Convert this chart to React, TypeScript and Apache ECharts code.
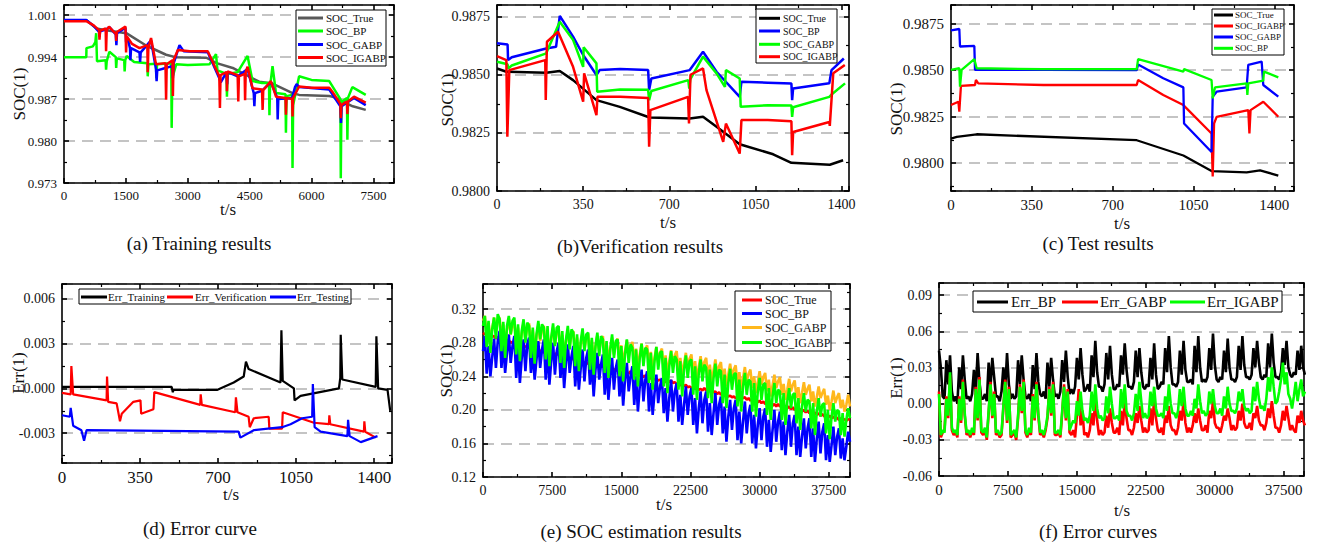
import React, { useEffect, useRef } from "react";
import * as echarts from "echarts";

const SERIF = "'Liberation Serif','Times New Roman',Times,serif";
type P = [number, number];

// ---------- (a) Training results ----------
const trainTrue: P[] = [[0,1.0001],[556,1.0001],[780,0.9988],[1100,0.9984],[1510,0.9980],[2000,0.9959],[2475,0.9944],[2700,0.9940],[3450,0.9939],[3700,0.9930],[4090,0.9922],[4730,0.9899],[5055,0.9896],[5540,0.9880],[5700,0.9877],[6430,0.9875],[6510,0.9874],[6750,0.9866],[7000,0.9858],[7315,0.9852]];
const trainBP: P[] = [[0,0.9940],[540,0.9940],[545,0.9955],[700,0.9958],[760,0.9965],[780,0.9980],[800,0.9933],[1010,0.9935],[1020,0.9919],[1035,0.9933],[1100,0.9949],[1255,0.9940],[1265,0.9922],[1280,0.9938],[1460,0.9935],[1470,0.9916],[1485,0.9935],[1520,0.9942],[1700,0.9932],[2020,0.9930],[2030,0.9908],[2045,0.9928],[2230,0.9929],[2240,0.9905],[2255,0.9928],[2600,0.9930],[2610,0.9822],[2625,0.9905],[2720,0.9928],[3000,0.9927],[3525,0.9928],[3685,0.9945],[3720,0.9918],[3940,0.9912],[3950,0.9874],[3965,0.9912],[4210,0.9915],[4450,0.9942],[4570,0.9900],[4800,0.9897],[4970,0.9897],[4980,0.9843],[4995,0.9890],[5055,0.9925],[5140,0.9880],[5370,0.9878],[5380,0.9814],[5395,0.9875],[5530,0.9877],[5540,0.9755],[5555,0.9860],[5700,0.9908],[6000,0.9902],[6430,0.9900],[6700,0.9870],[6710,0.9738],[6725,0.9865],[6860,0.9872],[6870,0.9802],[6885,0.9872],[6990,0.9890],[7315,0.9877]];
const trainGABP: P[] = [[0,1.0002],[540,1.0002],[720,0.9992],[850,0.9982],[860,0.9974],[875,0.9983],[1010,0.9986],[1100,0.9990],[1255,0.9978],[1270,0.9960],[1285,0.9980],[1490,0.9989],[1505,0.9965],[1540,0.9972],[1600,0.9955],[1610,0.9935],[1625,0.9955],[1830,0.9948],[1845,0.9932],[1860,0.9948],[2110,0.9968],[2230,0.9920],[2245,0.9900],[2260,0.9918],[2460,0.9922],[2620,0.9925],[2640,0.9905],[2660,0.9930],[2800,0.9960],[2900,0.9950],[3485,0.9948],[3765,0.9905],[3800,0.9898],[3940,0.9915],[3955,0.9895],[3970,0.9915],[4210,0.9908],[4450,0.9920],[4600,0.9880],[4615,0.9858],[4630,0.9880],[4800,0.9884],[5015,0.9898],[5170,0.9872],[5180,0.9836],[5195,0.9870],[5530,0.9872],[5600,0.9890],[5640,0.9895],[5700,0.9890],[6430,0.9886],[6700,0.9858],[6715,0.9830],[6730,0.9858],[7030,0.9872],[7315,0.9860]];
const trainIGABP: P[] = [[0,1.0000],[540,1.0000],[720,0.9993],[850,0.9985],[860,0.9969],[875,0.9984],[1010,0.9988],[1020,0.9950],[1035,0.9985],[1090,0.9991],[1255,0.9979],[1265,0.9967],[1280,0.9982],[1490,0.9991],[1505,0.9948],[1520,0.9975],[1650,0.9962],[1830,0.9955],[2020,0.9960],[2030,0.9915],[2045,0.9955],[2110,0.9972],[2230,0.9928],[2460,0.9930],[2475,0.9869],[2490,0.9928],[2630,0.9935],[2640,0.9875],[2655,0.9935],[2760,0.9952],[3050,0.9950],[3485,0.9950],[3765,0.9908],[3780,0.9855],[3795,0.9910],[3940,0.9915],[3950,0.9883],[3965,0.9916],[4210,0.9910],[4225,0.9866],[4240,0.9908],[4380,0.9912],[4390,0.9868],[4405,0.9915],[4450,0.9924],[4570,0.9888],[4800,0.9886],[4815,0.9852],[4830,0.9885],[5015,0.9900],[5140,0.9874],[5370,0.9872],[5380,0.9844],[5395,0.9872],[5530,0.9870],[5540,0.9841],[5555,0.9872],[5700,0.9891],[6000,0.9889],[6430,0.9889],[6510,0.9882],[6700,0.9862],[6710,0.9838],[6725,0.9860],[6860,0.9866],[6870,0.9845],[6885,0.9866],[7030,0.9874],[7315,0.9864]];

// ---------- (b) Verification results ----------
const verTrue: P[] = [[0,0.98527],[38,0.98513],[200,0.98509],[255,0.98516],[309,0.98477],[404,0.98391],[499,0.98362],[620,0.98316],[783,0.98312],[837,0.98319],[892,0.98276],[986,0.98201],[1122,0.98158],[1196,0.98121],[1352,0.98113],[1406,0.98132]];
const verBP: P[] = [[0,0.98635],[43,0.98630],[45,0.98563],[60,0.98575],[200,0.98613],[240,0.98620],[255,0.98753],[309,0.98664],[350,0.98585],[404,0.98499],[417,0.98520],[500,0.98525],[614,0.98520],[618,0.98434],[627,0.98484],[783,0.98520],[837,0.98599],[892,0.98513],[986,0.98405],[993,0.98470],[1100,0.98466],[1196,0.98462],[1199,0.98391],[1203,0.98441],[1350,0.98463],[1359,0.98520],[1409,0.98570]];
const verGABP: P[] = [[0,0.98556],[43,0.98545],[45,0.98527],[60,0.98540],[200,0.98592],[255,0.98728],[309,0.98650],[350,0.98534],[352,0.98618],[404,0.98549],[407,0.98427],[500,0.98437],[614,0.98435],[618,0.98391],[627,0.98430],[777,0.98477],[781,0.98440],[785,0.98480],[837,0.98578],[892,0.98506],[926,0.98448],[930,0.98520],[986,0.98484],[990,0.98362],[1100,0.98369],[1196,0.98368],[1199,0.98319],[1203,0.98360],[1350,0.98405],[1359,0.98415],[1414,0.98463]];
const verIGABP: P[] = [[0,0.98580],[38,0.98563],[42,0.98233],[50,0.98520],[196,0.98563],[198,0.98391],[203,0.98642],[248,0.98685],[309,0.98534],[350,0.98384],[354,0.98506],[404,0.98326],[408,0.98405],[500,0.98405],[614,0.98400],[618,0.98190],[623,0.98348],[776,0.98405],[780,0.98290],[786,0.98500],[837,0.98527],[851,0.98434],[919,0.98211],[930,0.98290],[986,0.98161],[993,0.98305],[1100,0.98305],[1196,0.98300],[1199,0.98154],[1203,0.98254],[1350,0.98297],[1352,0.98280],[1366,0.98506],[1413,0.98542]];

// ---------- (c) Test results ----------
const testTrue: P[] = [[0,0.98132],[25,0.98141],[111,0.98155],[804,0.98123],[1006,0.98041],[1128,0.97957],[1280,0.97950],[1338,0.97961],[1417,0.97933]];
const testIGABP: P[] = [[0,0.98312],[32,0.98330],[36,0.98276],[43,0.98415],[104,0.98420],[108,0.98447],[118,0.98429],[400,0.98420],[804,0.98420],[810,0.98447],[919,0.98366],[1006,0.98312],[1128,0.98159],[1133,0.97928],[1139,0.98213],[1150,0.98249],[1287,0.98285],[1292,0.98159],[1297,0.98285],[1352,0.98330],[1417,0.98249]];
const testGABP: P[] = [[0,0.98714],[36,0.98721],[39,0.98627],[101,0.98630],[104,0.98501],[400,0.98501],[804,0.98500],[810,0.98530],[919,0.98456],[1006,0.98407],[1009,0.98213],[1128,0.98060],[1133,0.98357],[1150,0.98384],[1280,0.98407],[1287,0.98528],[1345,0.98546],[1352,0.98420],[1417,0.98357]];
const testBP: P[] = [[0,0.98501],[36,0.98510],[39,0.98411],[46,0.98501],[101,0.98559],[111,0.98510],[400,0.98505],[804,0.98505],[810,0.98559],[1006,0.98492],[1009,0.98505],[1128,0.98447],[1133,0.98348],[1143,0.98407],[1280,0.98429],[1283,0.98366],[1287,0.98429],[1352,0.98443],[1355,0.98492],[1417,0.98461]];

// ---------- (d) Error curve ----------
const errTraining: P[] = [[0,0.0001],[492,0.0001],[497,-0.00025],[500,-0.0001],[695,-0.0001],[770,0.0004],[815,0.0008],[825,0.0018],[837,0.0013],[980,0.0004],[984,0.0039],[990,0.0005],[1040,0.0],[1043,-0.0008],[1070,-0.0005],[1242,0.0],[1248,0.0007],[1250,0.0036],[1257,0.0006],[1407,0.0001],[1410,0.0035],[1418,0.0],[1460,-0.0001],[1472,-0.0015]];
const errVerification: P[] = [[0,-0.0003],[39,-0.0004],[42,0.0015],[50,-0.0004],[200,-0.0008],[202,0.0008],[207,-0.0009],[245,-0.001],[260,-0.0022],[268,-0.0017],[320,-0.0009],[352,-0.0008],[355,-0.0017],[410,-0.0014],[414,-0.00025],[620,-0.0011],[622,-0.0004],[627,-0.0011],[777,-0.0016],[780,-0.0006],[787,-0.0016],[837,-0.0019],[842,-0.0026],[860,-0.0020],[927,-0.0019],[930,-0.0027],[987,-0.0027],[990,-0.0016],[1130,-0.0023],[1197,-0.0024],[1199,-0.0018],[1203,-0.0024],[1354,-0.0029],[1356,-0.0022],[1360,-0.0029],[1407,-0.0033]];
const errTesting: P[] = [[0,-0.0018],[35,-0.0019],[39,-0.0013],[50,-0.0025],[87,-0.0028],[99,-0.0035],[110,-0.0028],[792,-0.0029],[800,-0.0033],[860,-0.0028],[987,-0.0026],[1025,-0.0024],[1077,-0.0020],[1122,-0.0019],[1125,0.0003],[1133,-0.0026],[1160,-0.0029],[1280,-0.0032],[1283,-0.0021],[1290,-0.0032],[1340,-0.0036],[1415,-0.0032]];

// ---------- (e)/(f) long drive-cycle test (sample times, s) ----------
const cycleTime = [
  0,200,400,600,800,1000,1200,1400,1600,1800,2000,2200,2400,2600,2800,3000,3200,3400,3600,3800,
  4000,4200,4400,4600,4800,5000,5200,5400,5600,5800,6000,6200,6400,6600,6800,7000,7200,7400,7600,7800,
  8000,8200,8400,8600,8800,9000,9200,9400,9600,9800,10000,10200,10400,10600,10800,11000,11200,11400,11600,11800,
  12000,12200,12400,12600,12800,13000,13200,13400,13600,13800,14000,14200,14400,14600,14800,15000,15200,15400,15600,15800,
  16000,16200,16400,16600,16800,17000,17200,17400,17600,17800,18000,18200,18400,18600,18800,19000,19200,19400,19600,19800,
  20000,20200,20400,20600,20800,21000,21200,21400,21600,21800,22000,22200,22400,22600,22800,23000,23200,23400,23600,23800,
  24000,24200,24400,24600,24800,25000,25200,25400,25600,25800,26000,26200,26400,26600,26800,27000,27200,27400,27600,27800,
  28000,28200,28400,28600,28800,29000,29200,29400,29600,29800,30000,30200,30400,30600,30800,31000,31200,31400,31600,31800,
  32000,32200,32400,32600,32800,33000,33200,33400,33600,33800,34000,34200,34400,34600,34800,35000,35200,35400,35600,35800,
  36000,36200,36400,36600,36800,37000,37200,37400,37600,37800,38000,38200,38400,38600,38800,39000,39200,39400,39600,39800,
];
const socTrue = [
  0.292,0.290,0.291,0.288,0.289,0.287,0.288,0.285,0.287,0.284,0.285,0.283,0.284,0.281,0.283,0.280,0.281,0.279,0.280,0.278,
  0.279,0.277,0.278,0.275,0.276,0.274,0.275,0.272,0.274,0.271,0.272,0.270,0.271,0.268,0.270,0.267,0.268,0.266,0.267,0.265,
  0.268,0.265,0.266,0.264,0.265,0.262,0.264,0.261,0.262,0.260,0.261,0.258,0.260,0.257,0.258,0.256,0.257,0.255,0.256,0.254,
  0.256,0.254,0.255,0.252,0.254,0.251,0.252,0.250,0.251,0.248,0.250,0.247,0.249,0.246,0.247,0.245,0.246,0.244,0.245,0.243,
  0.246,0.243,0.245,0.242,0.243,0.241,0.242,0.239,0.241,0.238,0.240,0.237,0.238,0.236,0.237,0.235,0.236,0.234,0.235,0.233,
  0.236,0.233,0.235,0.232,0.233,0.231,0.232,0.229,0.231,0.228,0.230,0.227,0.228,0.226,0.227,0.225,0.226,0.224,0.225,0.223,
  0.226,0.223,0.225,0.222,0.223,0.221,0.222,0.219,0.221,0.218,0.220,0.217,0.218,0.216,0.217,0.215,0.216,0.214,0.215,0.213,
  0.216,0.214,0.215,0.212,0.214,0.211,0.213,0.210,0.212,0.209,0.211,0.208,0.210,0.207,0.209,0.206,0.208,0.205,0.207,0.204,
  0.207,0.204,0.206,0.203,0.205,0.202,0.204,0.201,0.203,0.200,0.202,0.199,0.201,0.198,0.200,0.197,0.199,0.196,0.198,0.195,
  0.197,0.194,0.196,0.193,0.195,0.192,0.194,0.191,0.193,0.190,0.192,0.189,0.191,0.188,0.190,0.188,0.189,0.187,0.189,0.188,
];
const socBP = [
  0.270,0.288,0.243,0.276,0.240,0.263,0.285,0.250, 0.282,0.294,0.250,0.280,0.244,0.268,0.290,0.256,
  0.276,0.288,0.238,0.274,0.232,0.262,0.284,0.246, 0.278,0.286,0.244,0.270,0.236,0.260,0.282,0.250,
  0.272,0.284,0.236,0.272,0.230,0.258,0.280,0.242, 0.270,0.280,0.238,0.266,0.226,0.256,0.278,0.244,
  0.264,0.276,0.228,0.262,0.224,0.250,0.272,0.234, 0.262,0.272,0.230,0.258,0.216,0.248,0.268,0.236,
  0.254,0.266,0.218,0.252,0.212,0.240,0.262,0.224, 0.250,0.260,0.216,0.246,0.205,0.236,0.256,0.222,
  0.240,0.252,0.206,0.240,0.198,0.228,0.248,0.210, 0.236,0.246,0.198,0.232,0.194,0.220,0.242,0.208,
  0.228,0.238,0.196,0.226,0.186,0.214,0.236,0.198, 0.222,0.232,0.186,0.218,0.182,0.206,0.228,0.194,
  0.216,0.226,0.182,0.214,0.172,0.202,0.222,0.184, 0.212,0.222,0.174,0.208,0.170,0.196,0.220,0.182,
  0.206,0.216,0.172,0.204,0.162,0.192,0.212,0.176, 0.202,0.212,0.164,0.198,0.160,0.186,0.210,0.172,
  0.196,0.206,0.160,0.194,0.154,0.182,0.202,0.164, 0.192,0.202,0.156,0.188,0.150,0.176,0.200,0.162,
  0.186,0.198,0.152,0.186,0.146,0.174,0.194,0.156, 0.184,0.194,0.146,0.180,0.144,0.168,0.190,0.154,
  0.178,0.190,0.144,0.178,0.138,0.166,0.186,0.148, 0.174,0.184,0.140,0.170,0.138,0.158,0.180,0.146,
  0.168,0.178,0.142,0.166,0.140,0.156,0.174,0.162,
];
const socGABP = [
  0.306,0.312,0.288,0.304,0.282,0.297,0.310,0.292, 0.305,0.310,0.286,0.302,0.278,0.296,0.308,0.290,
  0.300,0.306,0.280,0.298,0.276,0.291,0.304,0.284, 0.298,0.303,0.278,0.295,0.272,0.288,0.301,0.282,
  0.295,0.300,0.274,0.292,0.270,0.285,0.298,0.278, 0.292,0.297,0.272,0.289,0.266,0.282,0.295,0.276,
  0.289,0.294,0.268,0.286,0.264,0.279,0.292,0.272, 0.286,0.291,0.266,0.283,0.260,0.276,0.289,0.270,
  0.283,0.288,0.262,0.280,0.258,0.273,0.286,0.266, 0.280,0.285,0.260,0.277,0.254,0.270,0.283,0.264,
  0.276,0.281,0.256,0.273,0.250,0.266,0.279,0.260, 0.272,0.277,0.252,0.269,0.248,0.262,0.275,0.256,
  0.268,0.273,0.248,0.265,0.242,0.258,0.271,0.252, 0.265,0.270,0.246,0.262,0.240,0.255,0.268,0.250,
  0.261,0.266,0.242,0.258,0.236,0.251,0.264,0.246, 0.257,0.262,0.238,0.254,0.232,0.247,0.260,0.242,
  0.252,0.257,0.234,0.249,0.228,0.242,0.255,0.238, 0.248,0.253,0.230,0.245,0.224,0.238,0.251,0.234,
  0.243,0.248,0.226,0.240,0.220,0.233,0.246,0.230, 0.239,0.244,0.222,0.236,0.216,0.229,0.242,0.226,
  0.234,0.239,0.218,0.231,0.212,0.224,0.237,0.222, 0.230,0.235,0.214,0.227,0.208,0.220,0.233,0.218,
  0.225,0.230,0.210,0.222,0.204,0.215,0.228,0.214, 0.220,0.225,0.206,0.217,0.200,0.210,0.223,0.208,
  0.215,0.220,0.202,0.212,0.198,0.206,0.218,0.204,
];
const socIGABP = [
  0.300,0.312,0.275,0.306,0.268,0.296,0.310,0.285, 0.314,0.308,0.270,0.305,0.262,0.300,0.312,0.290,
  0.306,0.310,0.266,0.302,0.258,0.294,0.308,0.280, 0.304,0.300,0.262,0.298,0.255,0.290,0.306,0.284,
  0.302,0.298,0.260,0.300,0.252,0.286,0.303,0.276, 0.298,0.300,0.256,0.294,0.250,0.284,0.300,0.272,
  0.296,0.292,0.252,0.290,0.246,0.282,0.297,0.270, 0.290,0.292,0.248,0.286,0.242,0.276,0.292,0.264,
  0.288,0.284,0.244,0.282,0.238,0.272,0.290,0.262, 0.282,0.284,0.240,0.276,0.234,0.266,0.284,0.256,
  0.278,0.274,0.236,0.272,0.228,0.262,0.279,0.252, 0.274,0.272,0.232,0.268,0.224,0.258,0.275,0.248,
  0.268,0.270,0.228,0.262,0.220,0.252,0.270,0.244, 0.264,0.260,0.224,0.258,0.216,0.248,0.265,0.238,
  0.258,0.260,0.218,0.252,0.212,0.244,0.260,0.234, 0.254,0.250,0.214,0.248,0.208,0.238,0.255,0.228,
  0.248,0.246,0.208,0.242,0.202,0.232,0.249,0.224, 0.242,0.244,0.204,0.236,0.198,0.228,0.244,0.218,
  0.236,0.234,0.198,0.232,0.192,0.222,0.238,0.212, 0.230,0.232,0.194,0.226,0.188,0.216,0.232,0.208,
  0.224,0.222,0.188,0.220,0.182,0.210,0.226,0.202, 0.218,0.220,0.184,0.214,0.176,0.204,0.220,0.198,
  0.212,0.210,0.178,0.208,0.170,0.198,0.214,0.192, 0.206,0.208,0.172,0.200,0.165,0.192,0.208,0.186,
  0.200,0.198,0.170,0.196,0.168,0.188,0.202,0.190,
];
const errBP = [
  0.044,0.030,0.006,0.004,0.036,0.016,0.040,0.010, 0.002,0.006,0.000,0.030,0.012,0.040,0.020,0.004,
  0.006,0.002,0.008,0.028,0.010,0.042,0.018,0.004, 0.004,0.008,0.002,0.034,0.014,0.038,0.022,0.006,
  0.006,0.002,0.010,0.030,0.012,0.042,0.016,0.004, 0.008,0.004,0.006,0.036,0.016,0.040,0.020,0.006,
  0.004,0.008,0.002,0.032,0.012,0.042,0.018,0.008, 0.006,0.010,0.004,0.034,0.014,0.038,0.020,0.006,
  0.008,0.004,0.010,0.036,0.018,0.044,0.022,0.008, 0.012,0.008,0.014,0.038,0.020,0.046,0.024,0.010,
  0.012,0.016,0.010,0.040,0.022,0.052,0.026,0.014, 0.014,0.010,0.016,0.042,0.020,0.048,0.024,0.012,
  0.012,0.016,0.014,0.040,0.024,0.050,0.028,0.014, 0.014,0.012,0.018,0.044,0.022,0.046,0.026,0.014,
  0.012,0.016,0.014,0.038,0.020,0.050,0.024,0.012, 0.014,0.018,0.016,0.046,0.026,0.056,0.030,0.016,
  0.016,0.014,0.018,0.044,0.024,0.052,0.028,0.018, 0.018,0.020,0.016,0.048,0.026,0.056,0.030,0.018,
  0.020,0.018,0.022,0.046,0.028,0.058,0.032,0.020, 0.018,0.022,0.020,0.044,0.026,0.054,0.030,0.020,
  0.020,0.018,0.022,0.048,0.028,0.056,0.032,0.022, 0.022,0.020,0.024,0.046,0.030,0.052,0.034,0.022,
  0.020,0.024,0.022,0.050,0.030,0.058,0.034,0.022, 0.022,0.020,0.026,0.046,0.032,0.052,0.030,0.024,
  0.022,0.026,0.024,0.044,0.028,0.048,0.030,0.024,
];
const errGABP = [
  0.010,-0.028,-0.024,-0.022,0.006,-0.012,0.024,-0.022, -0.026,-0.024,-0.028,0.006,-0.016,0.020,-0.010,-0.026,
  -0.024,-0.028,-0.022,-0.026,0.014,-0.014,0.022,-0.024, -0.026,-0.022,-0.030,-0.008,0.018,-0.012,0.010,-0.026,
  -0.024,-0.028,-0.026,-0.004,0.020,-0.016,0.014,-0.028, -0.026,-0.024,-0.030,-0.012,0.016,-0.008,0.020,-0.024,
  -0.028,-0.022,-0.026,0.008,-0.014,0.018,-0.010,-0.026, -0.024,-0.028,-0.022,-0.012,0.014,-0.010,0.018,-0.026,
  -0.026,-0.024,-0.028,-0.008,0.016,-0.014,0.012,-0.024, -0.026,-0.022,-0.028,-0.010,0.012,-0.018,-0.006,-0.026,
  -0.024,-0.028,-0.022,-0.008,-0.018,0.004,-0.014,-0.026, -0.022,-0.026,-0.024,-0.010,-0.020,-0.004,-0.016,-0.024,
  -0.024,-0.020,-0.026,-0.006,-0.018,0.002,-0.012,-0.022, -0.022,-0.026,-0.020,-0.008,-0.016,-0.002,-0.014,-0.024,
  -0.020,-0.024,-0.022,-0.004,-0.018,0.004,-0.012,-0.022, -0.024,-0.020,-0.026,-0.010,-0.016,-0.002,-0.018,-0.022,
  -0.022,-0.026,-0.020,-0.006,-0.014,0.002,-0.016,-0.024, -0.020,-0.024,-0.018,-0.008,-0.016,-0.004,-0.014,-0.022,
  -0.022,-0.018,-0.024,-0.006,-0.012,0.002,-0.016,-0.020, -0.020,-0.024,-0.018,-0.010,-0.014,-0.004,-0.012,-0.022,
  -0.018,-0.022,-0.020,-0.006,-0.014,0.000,-0.016,-0.020, -0.020,-0.016,-0.022,-0.008,-0.012,-0.002,-0.014,-0.018,
  -0.018,-0.022,-0.016,-0.004,-0.012,0.002,-0.010,-0.020, -0.020,-0.024,-0.018,-0.006,-0.014,-0.002,-0.012,-0.022,
  -0.018,-0.022,-0.024,-0.010,-0.016,-0.006,-0.014,-0.018,
];
const errIGABP = [
  0.008,-0.026,-0.022,-0.024,0.004,-0.010,0.026,-0.020, -0.024,-0.022,-0.026,0.004,-0.014,0.018,-0.008,-0.024,
  -0.022,-0.026,-0.020,-0.024,0.012,-0.012,0.020,-0.022, -0.024,-0.020,-0.028,-0.006,0.016,-0.010,0.008,-0.024,
  -0.022,-0.026,-0.024,-0.002,0.018,-0.014,0.012,-0.026, -0.024,-0.022,-0.028,-0.010,0.014,-0.006,0.018,-0.022,
  -0.026,-0.020,-0.024,0.006,-0.012,0.016,-0.008,-0.024, -0.022,-0.026,-0.020,-0.010,0.012,-0.008,0.016,-0.024,
  -0.024,-0.022,-0.026,-0.006,0.014,-0.012,0.010,-0.022, -0.018,-0.014,-0.016,0.002,-0.010,0.010,-0.006,-0.014,
  -0.012,-0.016,-0.010,0.010,-0.006,0.016,-0.004,-0.012, -0.010,-0.014,-0.012,0.006,-0.008,0.014,0.000,-0.012,
  -0.012,-0.010,-0.014,0.012,-0.004,0.016,-0.006,-0.010, -0.010,-0.014,-0.008,0.008,-0.006,0.018,0.002,-0.012,
  -0.008,-0.012,-0.010,0.010,-0.002,0.014,-0.004,-0.010, -0.010,-0.008,-0.012,0.006,-0.006,0.016,0.000,-0.008,
  -0.008,-0.012,-0.006,0.012,-0.002,0.014,-0.004,-0.010, -0.010,-0.006,-0.010,0.004,-0.004,0.016,0.002,-0.008,
  -0.006,-0.010,-0.008,0.010,0.000,0.012,-0.002,-0.008, -0.008,-0.004,-0.010,0.006,-0.004,0.014,0.000,-0.006,
  -0.006,-0.008,-0.004,0.010,0.002,0.012,-0.002,-0.006, -0.004,-0.008,-0.006,0.014,0.002,0.018,0.004,-0.004,
  -0.002,-0.006,0.004,0.022,0.010,0.030,0.014,0.000, 0.002,0.010,0.020,0.034,0.016,0.026,0.008,0.004,
  -0.004,0.006,0.018,0.002,0.012,0.020,0.006,0.010,
];

const pair = (vals: number[]): P[] => cycleTime.map((t, i) => [t, vals[i]] as P);

const onStep = (v: number, step: number) => {
  const k = v / step;
  return Math.abs(k - Math.round(k)) < 1e-6;
};

interface PanelCfg {
  grid: { left: number; top: number; width: number; height: number };
  x: [number, number, number];
  y: [number, number, number];
  yDec: number;
  xFont: number;
  yFont: number;
  lw: number;
  series: { name: string; data: P[]; color: string }[];
}

const panels: PanelCfg[] = [
  {
    grid: { left: 64, top: 5, width: 330, height: 178 }, x: [0, 8000, 1500], y: [0.973, 1.0027, 0.007], yDec: 3, xFont: 13, yFont: 13, lw: 2.5,
    series: [
      { name: "SOC_True", data: trainTrue, color: "#595959" },
      { name: "SOC_BP", data: trainBP, color: "#00ff00" },
      { name: "SOC_GABP", data: trainGABP, color: "#0000ff" },
      { name: "SOC_IGABP", data: trainIGABP, color: "#ff0000" },
    ],
  },
  {
    grid: { left: 497, top: 5, width: 352, height: 186 }, x: [0, 1430, 350], y: [0.98, 0.988, 0.0025], yDec: 4, xFont: 14, yFont: 14, lw: 2.5,
    series: [
      { name: "SOC_True", data: verTrue, color: "#000000" },
      { name: "SOC_BP", data: verBP, color: "#0000ff" },
      { name: "SOC_GABP", data: verGABP, color: "#00ff00" },
      { name: "SOC_IGABP", data: verIGABP, color: "#ff0000" },
    ],
  },
  {
    grid: { left: 951, top: 5, width: 343, height: 186 }, x: [0, 1485, 350], y: [0.9785, 0.9885, 0.0025], yDec: 4, xFont: 15, yFont: 15, lw: 2.3,
    series: [
      { name: "SOC_True", data: testTrue, color: "#000000" },
      { name: "SOC_IGABP", data: testIGABP, color: "#ff0000" },
      { name: "SOC_GABP", data: testGABP, color: "#0000ff" },
      { name: "SOC_BP", data: testBP, color: "#00ff00" },
    ],
  },
  {
    grid: { left: 62, top: 284, width: 330, height: 179 }, x: [0, 1480, 350], y: [-0.005, 0.007, 0.003], yDec: 3, xFont: 17, yFont: 14, lw: 2.2,
    series: [
      { name: "Err_Training", data: errTraining, color: "#000000" },
      { name: "Err_Verification", data: errVerification, color: "#ff0000" },
      { name: "Err_Testing", data: errTesting, color: "#0000ff" },
    ],
  },
  {
    grid: { left: 483, top: 284, width: 367, height: 193 }, x: [0, 39800, 7500], y: [0.12, 0.35, 0.04], yDec: 2, xFont: 14, yFont: 14, lw: 2.6,
    series: [
      { name: "SOC_True", data: pair(socTrue), color: "#ff0000" },
      { name: "SOC_BP", data: pair(socBP), color: "#0000ff" },
      { name: "SOC_GABP", data: pair(socGABP), color: "#ffb81c" },
      { name: "SOC_IGABP", data: pair(socIGABP), color: "#00ff00" },
    ],
  },
  {
    grid: { left: 939, top: 283, width: 365, height: 193 }, x: [0, 39700, 7500], y: [-0.06, 0.10, 0.03], yDec: 2, xFont: 15, yFont: 14, lw: 2.6,
    series: [
      { name: "Err_BP", data: pair(errBP), color: "#000000" },
      { name: "Err_GABP", data: pair(errGABP), color: "#ff0000" },
      { name: "Err_IGABP", data: pair(errIGABP), color: "#00ff00" },
    ],
  },
];

interface LegendCfg {
  box: [number, number, number, number];
  font: number;
  items: { name: string; color: string; x1: number; x2: number; tx: number; y: number }[];
}

const legends: LegendCfg[] = [
  { box: [296, 10, 90, 56], font: 11, items: [
    { name: "SOC_True", color: "#595959", x1: 298, x2: 323, tx: 326, y: 18 },
    { name: "SOC_BP", color: "#00ff00", x1: 298, x2: 323, tx: 326, y: 31 },
    { name: "SOC_GABP", color: "#0000ff", x1: 298, x2: 323, tx: 326, y: 44.5 },
    { name: "SOC_IGABP", color: "#ff0000", x1: 298, x2: 323, tx: 326, y: 57.5 },
  ] },
  { box: [756, 9, 81, 54], font: 10, items: [
    { name: "SOC_True", color: "#000000", x1: 759, x2: 780, tx: 783, y: 18.3 },
    { name: "SOC_BP", color: "#0000ff", x1: 759, x2: 780, tx: 783, y: 31 },
    { name: "SOC_GABP", color: "#00ff00", x1: 759, x2: 780, tx: 783, y: 44.3 },
    { name: "SOC_IGABP", color: "#ff0000", x1: 759, x2: 780, tx: 783, y: 56.7 },
  ] },
  { box: [1212, 9, 72, 46], font: 9, items: [
    { name: "SOC_True", color: "#000000", x1: 1214, x2: 1233, tx: 1235, y: 15 },
    { name: "SOC_IGABP", color: "#ff0000", x1: 1214, x2: 1233, tx: 1235, y: 26 },
    { name: "SOC_GABP", color: "#0000ff", x1: 1214, x2: 1233, tx: 1235, y: 37 },
    { name: "SOC_BP", color: "#00ff00", x1: 1214, x2: 1233, tx: 1235, y: 48.3 },
  ] },
  { box: [79, 289, 272, 15], font: 11, items: [
    { name: "Err_Training", color: "#000000", x1: 81, x2: 107, tx: 108, y: 297 },
    { name: "Err_Verification", color: "#ff0000", x1: 167, x2: 193, tx: 195, y: 297 },
    { name: "Err_Testing", color: "#0000ff", x1: 270, x2: 296, tx: 297, y: 297 },
  ] },
  { box: [735, 291, 96, 60], font: 12, items: [
    { name: "SOC_True", color: "#ff0000", x1: 742, x2: 762, tx: 765, y: 300 },
    { name: "SOC_BP", color: "#0000ff", x1: 742, x2: 762, tx: 765, y: 313.5 },
    { name: "SOC_GABP", color: "#ffb81c", x1: 742, x2: 762, tx: 765, y: 327.5 },
    { name: "SOC_IGABP", color: "#00ff00", x1: 742, x2: 762, tx: 765, y: 342.5 },
  ] },
  { box: [973, 291, 309, 21], font: 15, items: [
    { name: "Err_BP", color: "#000000", x1: 977, x2: 1008, tx: 1011, y: 302 },
    { name: "Err_GABP", color: "#ff0000", x1: 1062, x2: 1098, tx: 1100, y: 302 },
    { name: "Err_IGABP", color: "#00ff00", x1: 1170, x2: 1205, tx: 1207, y: 302 },
  ] },
];

const titles: { text: string; x: number; y: number }[] = [
  { text: "(a) Training results", x: 199, y: 243 },
  { text: "(b)Verification results", x: 640, y: 246 },
  { text: "(c) Test results", x: 1098, y: 243 },
  { text: "(d) Error curve", x: 200, y: 528 },
  { text: "(e) SOC estimation results", x: 641, y: 531 },
  { text: "(f) Error curves", x: 1098, y: 531 },
];

const axisNames: { text: string; x: number; y: number; rot: number }[] = [
  { text: "t/s", x: 228, y: 209, rot: 0 },
  { text: "t/s", x: 668, y: 222, rot: 0 },
  { text: "t/s", x: 1122, y: 223, rot: 0 },
  { text: "t/s", x: 231, y: 494, rot: 0 },
  { text: "t/s", x: 664, y: 504, rot: 0 },
  { text: "t/s", x: 1122, y: 510, rot: 0 },
  { text: "SOC(1)", x: 19, y: 94, rot: Math.PI / 2 },
  { text: "SOC(1)", x: 447, y: 100, rot: Math.PI / 2 },
  { text: "SOC(1)", x: 896, y: 109, rot: Math.PI / 2 },
  { text: "Err(1)", x: 18, y: 373, rot: Math.PI / 2 },
  { text: "SOC(1)", x: 446, y: 371, rot: Math.PI / 2 },
  { text: "Err(1)", x: 896, y: 378, rot: Math.PI / 2 },
];

function buildOption() {
  const grid: any[] = [];
  const xAxis: any[] = [];
  const yAxis: any[] = [];
  const series: any[] = [];
  const black = { color: "#000", width: 1.6 };
  panels.forEach((p, i) => {
    grid.push({ ...p.grid, show: false, containLabel: false, outerBoundsMode: "none" });
    const common = {
      type: "value",
      gridIndex: i,
      axisLine: { show: true, onZero: false, lineStyle: black },
      axisTick: { show: true, inside: true, length: 5, lineStyle: black },
      minorTick: { show: true, splitNumber: 2, length: 3, lineStyle: { color: "#000", width: 1.2 } },
    };
    const xc = { ...common, min: p.x[0], max: p.x[1], minInterval: p.x[2], maxInterval: p.x[2], splitNumber: 5 };
    xAxis.push({
      ...xc, position: "bottom", splitLine: { show: false },
      axisLabel: { show: true, margin: 6, fontFamily: SERIF, fontSize: p.xFont, color: "#111",
        formatter: (v: number) => (onStep(v, p.x[2]) ? String(Math.round(v)) : "") },
    });
    xAxis.push({ ...xc, position: "top", splitLine: { show: false }, axisLabel: { show: false } });
    const yc = { ...common, min: p.y[0], max: p.y[1], minInterval: p.y[2], maxInterval: p.y[2], splitNumber: 4 };
    yAxis.push({
      ...yc, position: "left",
      splitLine: { show: true, lineStyle: { color: "#c4c4c4", width: 1.8, type: [11, 7] } },
      axisLabel: { show: true, margin: 7, fontFamily: SERIF, fontSize: p.yFont, color: "#111",
        formatter: (v: number) => {
          if (!onStep(v, p.y[2])) return "";
          const w = Math.abs(v) < 1e-12 ? 0 : v;
          return w.toFixed(p.yDec);
        } },
    });
    yAxis.push({ ...yc, position: "right", splitLine: { show: false }, axisLabel: { show: false } });
    p.series.forEach((s) => {
      series.push({
        type: "line", name: s.name, data: s.data, xAxisIndex: i * 2, yAxisIndex: i * 2,
        showSymbol: false, symbol: "none", silent: true, clip: true,
        lineStyle: { color: s.color, width: p.lw }, itemStyle: { color: s.color },
      });
    });
  });

  const elements: any[] = [];
  legends.forEach((lg) => {
    elements.push({ type: "rect", z: 100, shape: { x: lg.box[0], y: lg.box[1], width: lg.box[2], height: lg.box[3] },
      style: { fill: "#fff", stroke: "#000", lineWidth: 1 } });
    lg.items.forEach((it) => {
      elements.push({ type: "line", z: 101, shape: { x1: it.x1, y1: it.y, x2: it.x2, y2: it.y }, style: { stroke: it.color, lineWidth: 3 } });
      elements.push({ type: "text", z: 101, x: it.tx, y: it.y,
        style: { text: it.name, fill: "#111", font: `${lg.font}px ${SERIF}`, align: "left", verticalAlign: "middle", textAlign: "left", textVerticalAlign: "middle" } });
    });
  });
  titles.forEach((t) => {
    elements.push({ type: "text", z: 101, x: t.x, y: t.y,
      style: { text: t.text, fill: "#111", font: `19px ${SERIF}`, align: "center", verticalAlign: "middle", textAlign: "center", textVerticalAlign: "middle" } });
  });
  axisNames.forEach((t) => {
    elements.push({ type: "text", z: 101, x: t.x, y: t.y, rotation: t.rot,
      style: { text: t.text, fill: "#111", font: `17px ${SERIF}`, align: "center", verticalAlign: "middle", textAlign: "center", textVerticalAlign: "middle" } });
  });

  return { animation: false, backgroundColor: "#ffffff", grid, xAxis, yAxis, series, graphic: { elements } };
}

export default function App() {
  const ref = useRef<HTMLDivElement>(null);
  useEffect(() => {
    if (!ref.current) return;
    const chart = echarts.init(ref.current, null, { renderer: "svg" });
    chart.setOption(buildOption() as any);
    return () => chart.dispose();
  }, []);
  return <div ref={ref} style={{ position: "absolute", left: 0, top: 0, width: 1320, height: 548, background: "#fff" }} />;
}
